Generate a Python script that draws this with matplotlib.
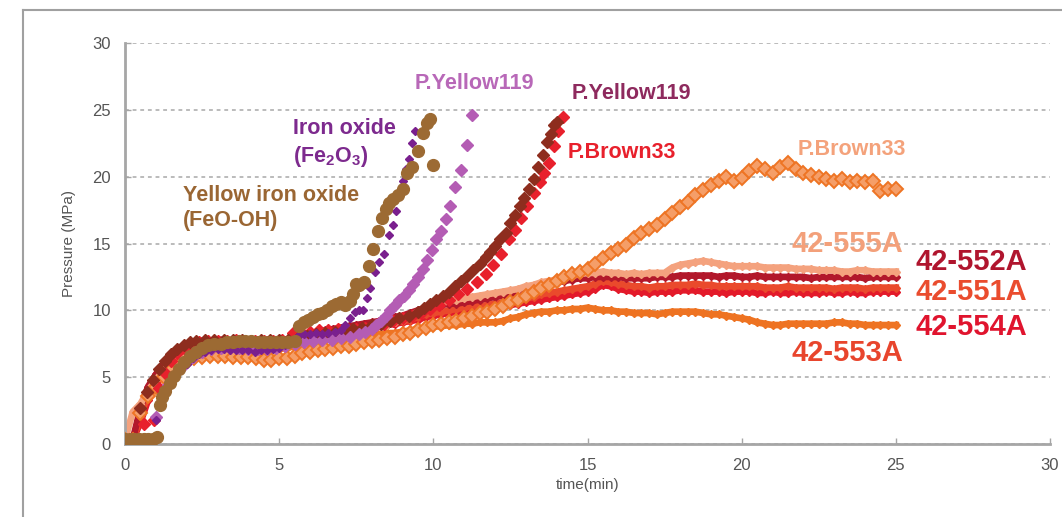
import numpy as np
import matplotlib
matplotlib.use("Agg")
import matplotlib.pyplot as plt
from matplotlib.lines import Line2D

plt.rcParams['font.family'] = ['Liberation Sans', 'DejaVu Sans']
plt.rcParams['mathtext.fontset'] = 'custom'
plt.rcParams['mathtext.rm'] = 'Liberation Sans:bold'
plt.rcParams['mathtext.it'] = 'Liberation Sans:bold'
plt.rcParams['mathtext.bf'] = 'Liberation Sans:bold'

# common sampling grid (min) for the long runs
t_grid = np.arange(0, 25.01, 0.25)

s555 = [0.3, 2.4, 3.0, 4.0, 4.8, 5.5, 6.1, 6.6, 6.9, 7.1,
        7.2, 7.3, 7.3, 7.3, 7.4, 7.3, 7.4, 7.4, 7.3, 7.4,
        7.4, 7.4, 7.5, 7.6, 7.7, 7.8, 7.9, 8.0, 8.1, 8.2,
        8.4, 8.5, 8.6, 8.8, 8.9, 9.1, 9.3, 9.6, 9.9, 10.1,
        10.4, 10.5, 10.7, 10.8, 10.9, 11.0, 11.1, 11.2, 11.3, 11.4,
        11.5, 11.6, 11.8, 11.9, 12.1, 12.2, 12.3, 12.4, 12.6, 12.7,
        12.8, 12.8, 12.9, 12.8, 12.8, 12.7, 12.8, 12.7, 12.8, 12.8,
        12.8, 13.2, 13.4, 13.5, 13.6, 13.7, 13.6, 13.5, 13.4, 13.3,
        13.3, 13.3, 13.3, 13.2, 13.2, 13.2, 13.2, 13.1, 13.1, 13.1,
        13.0, 13.0, 13.0, 12.9, 12.9, 13.0, 13.0, 12.9, 12.9, 12.9,
        12.9]
s552 = [0.3, 0.3, 2.7, 4.3, 5.2, 6.0, 6.6, 7.1, 7.4, 7.6,
        7.7, 7.7, 7.8, 7.8, 7.7, 7.8, 7.8, 7.7, 7.8, 7.8,
        7.8, 7.8, 7.9, 8.1, 8.3, 8.4, 8.5, 8.6, 8.7, 8.8,
        8.9, 9.0, 9.1, 9.2, 9.4, 9.5, 9.6, 9.8, 10.0, 10.2,
        10.3, 10.4, 10.5, 10.5, 10.6, 10.7, 10.8, 10.9, 11.0, 11.1,
        11.2, 11.4, 11.5, 11.6, 11.8, 11.9, 12.1, 12.2, 12.3, 12.4,
        12.4, 12.5, 12.5, 12.5, 12.5, 12.4, 12.4, 12.4, 12.4, 12.5,
        12.5, 12.5, 12.6, 12.6, 12.6, 12.6, 12.6, 12.5, 12.6, 12.6,
        12.5, 12.5, 12.6, 12.5, 12.5, 12.5, 12.5, 12.5, 12.5, 12.4,
        12.5, 12.5, 12.5, 12.5, 12.5, 12.5, 12.4, 12.5, 12.5, 12.5,
        12.5]
s551 = [0.3, 0.3, 2.0, 3.8, 4.9, 5.7, 6.3, 6.8, 7.2, 7.4,
        7.5, 7.6, 7.6, 7.7, 7.7, 7.6, 7.7, 7.7, 7.6, 7.7,
        7.7, 7.7, 7.8, 7.9, 8.1, 8.2, 8.3, 8.4, 8.5, 8.5,
        8.6, 8.7, 8.8, 8.9, 9.0, 9.1, 9.2, 9.3, 9.5, 9.7,
        9.8, 9.9, 10.0, 10.1, 10.2, 10.3, 10.3, 10.4, 10.5, 10.6,
        10.7, 10.8, 10.9, 11.0, 11.2, 11.3, 11.4, 11.5, 11.6, 11.7,
        11.8, 12.0, 12.2, 12.1, 12.0, 11.9, 11.8, 11.8, 11.7, 11.8,
        11.8, 11.9, 11.9, 11.9, 12.0, 11.9, 11.9, 11.8, 11.8, 11.8,
        11.8, 11.8, 11.8, 11.7, 11.7, 11.7, 11.8, 11.7, 11.7, 11.7,
        11.7, 11.7, 11.6, 11.7, 11.7, 11.7, 11.6, 11.7, 11.7, 11.7,
        11.7]
s554 = [0.3, 0.3, 1.6, 3.3, 4.6, 5.5, 6.2, 6.7, 7.1, 7.3,
        7.4, 7.5, 7.6, 7.6, 7.6, 7.5, 7.6, 7.6, 7.6, 7.6,
        7.6, 7.7, 7.8, 8.0, 8.2, 8.3, 8.3, 8.4, 8.4, 8.5,
        8.5, 8.6, 8.7, 8.8, 8.9, 9.0, 9.1, 9.2, 9.3, 9.5,
        9.6, 9.7, 9.8, 9.9, 9.9, 10.0, 10.1, 10.1, 10.2, 10.3,
        10.4, 10.5, 10.6, 10.7, 10.8, 10.9, 11.0, 11.1, 11.2, 11.3,
        11.4, 11.6, 11.9, 11.8, 11.6, 11.5, 11.4, 11.4, 11.3, 11.4,
        11.4, 11.4, 11.5, 11.5, 11.5, 11.4, 11.4, 11.4, 11.3, 11.4,
        11.4, 11.4, 11.3, 11.3, 11.4, 11.3, 11.3, 11.4, 11.3, 11.3,
        11.3, 11.4, 11.3, 11.3, 11.4, 11.3, 11.3, 11.4, 11.4, 11.4,
        11.4]
s553 = [0.3, 0.3, 2.2, 3.6, 4.5, 5.2, 5.8, 6.2, 6.5, 6.7,
        6.9, 7.0, 7.0, 7.0, 7.1, 7.0, 7.0, 7.1, 7.0, 7.1,
        7.1, 7.2, 7.3, 7.4, 7.6, 7.7, 7.8, 7.8, 7.9, 7.9,
        8.0, 8.0, 8.1, 8.2, 8.3, 8.3, 8.4, 8.5, 8.6, 8.7,
        8.8, 8.8, 8.9, 8.9, 9.0, 9.0, 9.1, 9.1, 9.1, 9.2,
        9.4, 9.5, 9.7, 9.8, 9.9, 9.9, 10.0, 10.0, 10.1, 10.1,
        10.2, 10.1, 10.0, 10.0, 9.9, 9.9, 9.8, 9.8, 9.8, 9.7,
        9.8, 9.9, 9.9, 9.9, 9.9, 9.8, 9.7, 9.7, 9.6, 9.5,
        9.4, 9.3, 9.1, 9.0, 8.9, 8.9, 9.0, 9.0, 9.0, 9.0,
        9.0, 9.0, 9.1, 9.1, 9.0, 9.0, 8.9, 8.9, 8.9, 8.9,
        8.9]
pb33_orange = [0.3, 0.3, 2.3, 3.6, 4.3, 5.0, 5.5, 5.9, 6.2, 6.4,
               6.5, 6.6, 6.6, 6.6, 6.5, 6.5, 6.5, 6.4, 6.3, 6.3,
               6.4, 6.4, 6.6, 6.8, 6.9, 7.0, 7.1, 7.2, 7.3, 7.3,
               7.5, 7.6, 7.7, 7.8, 7.9, 8.0, 8.2, 8.3, 8.5, 8.7,
               8.9, 9.0, 9.1, 9.2, 9.4, 9.6, 9.8, 9.9, 10.1, 10.3,
               10.6, 10.8, 11.1, 11.4, 11.7, 11.9, 12.2, 12.5, 12.7, 12.9,
               13.1, 13.5, 13.9, 14.3, 14.6, 14.9, 15.4, 15.8, 16.1, 16.4,
               16.8, 17.3, 17.7, 18.1, 18.6, 19.0, 19.4, 19.7, 20.0, 19.7,
               19.9, 20.4, 20.8, 20.6, 20.3, 20.7, 21.0, 20.6, 20.3, 20.1,
               20.0, 19.8, 19.7, 19.8, 19.6, 19.7, 19.6, 19.7, 18.9, 19.1,
               19.1]

# yellow iron oxide (FeO-OH)
feooh_t = [0.0, 0.15, 0.3, 0.45, 0.6, 0.75, 0.9, 1.05,
           1.12, 1.2, 1.3, 1.45, 1.6, 1.75, 1.9, 2.1, 2.3, 2.5,
           2.7, 2.9, 3.1, 3.3, 3.5, 3.7, 3.9, 4.1, 4.3, 4.5,
           4.7, 4.9, 5.1, 5.3, 5.5,
           5.65, 5.8, 5.95, 6.1, 6.25, 6.4, 6.55, 6.7, 6.85, 7.0,
           7.15, 7.3, 7.4, 7.5, 7.6, 7.75, 7.9, 8.05, 8.2, 8.35,
           8.45, 8.55, 8.7, 8.85, 9.0, 9.15, 9.3, 9.5, 9.65, 9.8,
           9.9, 10.0]
feooh_p = [0.4, 0.4, 0.4, 0.4, 0.4, 0.4, 0.4, 0.5,
           2.9, 3.5, 4.0, 4.6, 5.1, 5.6, 6.1, 6.6, 6.9, 7.2,
           7.4, 7.5, 7.5, 7.6, 7.6, 7.7, 7.7, 7.7, 7.6, 7.6,
           7.6, 7.6, 7.6, 7.6, 7.7,
           8.8, 9.1, 9.3, 9.5, 9.7, 9.8, 10.0, 10.3, 10.5, 10.6,
           10.4, 10.7, 11.2, 12.0, 11.9, 12.1, 13.3, 14.6, 15.9, 16.9,
           17.6, 18.0, 18.3, 18.6, 19.1, 20.3, 20.7, 21.9, 23.3, 24.0,
           24.3, 20.9]

# iron oxide (Fe2O3)
fe2o3_t = [0.0, 0.2, 0.4, 0.6, 0.8,
           1.0, 1.2, 1.4, 1.6, 1.8, 2.0, 2.2, 2.4, 2.6, 2.8,
           3.0, 3.2, 3.4, 3.6, 3.8, 4.0, 4.2, 4.4, 4.6, 4.8,
           5.0, 5.2, 5.4, 5.6, 5.8, 6.0, 6.2, 6.4, 6.6, 6.8, 7.0,
           7.15, 7.3, 7.45, 7.6, 7.72, 7.85, 7.95, 8.1, 8.25, 8.4,
           8.55, 8.7, 8.8, 8.9, 9.0, 9.1, 9.2, 9.3, 9.4]
fe2o3_p = [0.3, 0.3, 0.3, 0.3, 0.3,
           1.8, 3.5, 4.3, 5.0, 5.6, 6.0, 6.4, 6.7, 6.9, 7.0,
           7.1, 7.1, 7.0, 7.0, 7.0, 7.0, 6.9, 7.0, 7.0, 7.1,
           7.2, 7.4, 7.7, 8.1, 8.2, 8.2, 8.3, 8.2, 8.3, 8.4, 8.5,
           8.9, 9.4, 9.9, 10.0, 10.0, 10.9, 11.7, 12.9, 13.6, 14.2,
           15.6, 16.4, 17.4, 18.6, 19.7, 20.6, 21.3, 22.5, 23.4]

# P.Yellow119 (light)
py119l_t = [0.0, 0.2, 0.4, 0.6, 0.8,
            1.0, 1.2, 1.4, 1.6, 1.8, 2.0, 2.2, 2.5, 2.8, 3.1,
            3.4, 3.7, 4.0, 4.3, 4.6, 4.9, 5.2, 5.5, 5.8, 6.1,
            6.4, 6.7, 7.0, 7.3, 7.6, 7.8, 8.0, 8.15, 8.3, 8.45,
            8.6, 8.75, 8.9, 9.05, 9.2, 9.35, 9.5, 9.65, 9.8, 9.95,
            10.1, 10.25, 10.4, 10.55, 10.7, 10.9, 11.1, 11.25]
py119l_p = [0.3, 0.3, 0.3, 0.3, 0.3,
            2.0, 3.5, 4.4, 5.1, 5.7, 6.1, 6.5, 6.9, 7.1, 7.2,
            7.2, 7.2, 7.1, 7.1, 7.1, 7.2, 7.3, 7.5, 7.6, 7.7,
            7.8, 7.8, 7.9, 8.0, 8.2, 8.4, 8.6, 8.9, 9.2, 9.6,
            10.0, 10.4, 10.8, 11.1, 11.5, 12.0, 12.5, 13.1, 13.8, 14.5,
            15.3, 15.9, 16.8, 17.8, 19.2, 20.5, 22.4, 24.6]

# P.Yellow119 (dark)
py119d_t = [0.0, 0.2, 0.35, 0.5, 0.7, 0.9, 1.1, 1.3, 1.5, 1.7,
            1.9, 2.1, 2.3, 2.6, 2.9, 3.2, 3.5, 3.8, 4.1, 4.4,
            4.7, 5.0, 5.3, 5.6, 5.9, 6.2, 6.5, 6.8, 7.1, 7.4,
            7.7, 8.0, 8.3, 8.6, 8.9, 9.2, 9.5, 9.7, 9.9, 10.1,
            10.3, 10.5, 10.7, 10.9, 11.1, 11.3, 11.5, 11.7, 11.85, 12.0,
            12.15, 12.35, 12.5, 12.65, 12.8, 12.95, 13.1, 13.25, 13.4, 13.55,
            13.7, 13.8, 13.9, 14.0]
py119d_p = [0.3, 0.3, 0.3, 2.7, 3.9, 4.8, 5.6, 6.2, 6.7, 7.1,
            7.4, 7.6, 7.7, 7.8, 7.8, 7.8, 7.8, 7.8, 7.7, 7.8,
            7.8, 7.8, 7.8, 7.9, 8.1, 8.2, 8.3, 8.4, 8.5, 8.6,
            8.7, 8.9, 9.0, 9.2, 9.4, 9.6, 9.9, 10.2, 10.5, 10.8,
            11.1, 11.4, 11.8, 12.2, 12.6, 13.0, 13.5, 14.0, 14.4, 14.8,
            15.3, 15.8, 16.5, 17.1, 17.8, 18.4, 19.1, 19.8, 20.7, 21.6,
            22.6, 23.2, 23.9, 24.1]

# P.Brown33 (red)
pb33r_t = [0.0, 0.2, 0.4, 0.6, 0.95, 1.1, 1.3, 1.5, 1.7, 1.9,
           2.1, 2.4, 2.7, 3.0, 3.3, 3.6, 3.9, 4.2, 4.5, 4.8,
           5.1, 5.45, 5.7, 6.0, 6.3, 6.6, 6.9, 7.2, 7.5, 7.8,
           8.1, 8.4, 8.7, 9.0, 9.3, 9.6, 9.9, 10.2, 10.5, 10.8,
           11.1, 11.4, 11.7, 11.95, 12.2, 12.45, 12.65, 12.85, 13.05, 13.25,
           13.45, 13.6, 13.75, 13.9, 14.05, 14.2]
pb33r_p = [0.3, 0.3, 0.3, 1.5, 1.8, 4.2, 5.3, 6.2, 6.8, 7.2,
           7.5, 7.6, 7.7, 7.7, 7.7, 7.8, 7.7, 7.7, 7.7, 7.7,
           7.8, 8.3, 8.4, 8.4, 8.5, 8.5, 8.6, 8.6, 8.6, 8.7,
           8.8, 9.0, 9.2, 9.4, 9.6, 9.8, 10.1, 10.4, 10.8, 11.2,
           11.6, 12.1, 12.7, 13.4, 14.2, 15.3, 16.0, 16.9, 17.8, 18.8,
           19.6, 20.3, 21.0, 22.3, 23.4, 24.5]

fig = plt.figure(figsize=(10.62, 5.17), dpi=100)
ax = fig.add_axes([125 / 1062, 1 - 444 / 517, 925 / 1062, 401 / 517])

# dense runs drawn as thick jagged bands
dense = [(s553, '#EE7322'), (s554, '#E31A2A'), (s551, '#EA4A2C'),
         (s552, '#B2182B'), (s555, '#F4A27E')]
for vals, col in dense:
    ax.plot(t_grid, vals, '-', color=col, lw=4.8, marker='D', ms=4.2,
            mec=col, mfc=col, solid_joinstyle='round', zorder=2)

ax.plot(t_grid, pb33_orange, 'D', ms=6.8, mfc='#F59E68', mec='#EE7424',
        mew=1.4, zorder=3)
ax.plot(pb33r_t, pb33r_p, 'D', ms=6.5, color='#E8202C', zorder=4)
ax.plot(py119d_t, py119d_p, 'D', ms=6.5, color='#8E2D1E', zorder=5)
ax.plot(py119l_t, py119l_p, 'D', ms=6.5, color='#B45CB4', zorder=6)
ax.plot(fe2o3_t, fe2o3_p, 'D', ms=4.2, color='#7A1F8E', zorder=7)
ax.plot(feooh_t, feooh_p, 'o', ms=8.5, color='#9C6A33', zorder=8)

ax.set_xlim(0, 30)
ax.set_ylim(0, 30)
ax.set_xticks(range(0, 31, 5))
ax.set_yticks(range(0, 31, 5))
ax.yaxis.grid(True, color='#A8A8A8', lw=1.1, dashes=(2.5, 2.5))
ax.set_axisbelow(True)
for side in ('top', 'right'):
    ax.spines[side].set_visible(False)
for side in ('left', 'bottom'):
    ax.spines[side].set_color('#A6A6A6')
    ax.spines[side].set_linewidth(2)
ax.tick_params(direction='in', length=4, width=1, color='#A6A6A6',
               labelsize=12, labelcolor='#555555', pad=10)
ax.set_xlabel('time(min)', fontsize=11, color='#555555', labelpad=4)
ax.set_ylabel('Pressure (MPa)', fontsize=11, color='#555555', labelpad=12)

# series labels
lab = dict(fontsize=15.5, fontweight='bold', va='center', ha='left')
ax.text(5.45, 23.6, 'Iron oxide', color='#7D2A8E', **lab)
ax.text(5.45, 21.5, '(Fe$_2$O$_3$)', color='#7D2A8E', **lab)
ax.text(1.88, 18.6, 'Yellow iron oxide', color='#9A6633', **lab)
ax.text(1.88, 16.7, '(FeO-OH)', color='#9A6633', **lab)
ax.text(9.4, 27.0, 'P.Yellow119', color='#B868B8', **lab)
ax.text(14.5, 26.25, 'P.Yellow119', color='#8E2A5E', **lab)
ax.text(14.37, 21.8, 'P.Brown33', color='#E8202C', **lab)
ax.text(21.83, 22.0, 'P.Brown33', color='#F4A27B', **lab)

big = dict(fontsize=21, fontweight='bold', va='center', ha='left')
ax.text(21.63, 15.0, '42-555A', color='#F3A07A', **big)
ax.text(25.65, 13.6, '42-552A', color='#B0152E', **big)
ax.text(25.65, 11.4, '42-551A', color='#EA4C2E', **big)
ax.text(25.65, 8.75, '42-554A', color='#E0142E', **big)
ax.text(21.63, 6.8, '42-553A', color='#E8452D', **big)
for t in ax.texts:
    t.set_clip_on(False)

# outer chart frame
fig.add_artist(Line2D([23 / 1062, 23 / 1062], [0, 1 - 10 / 517],
                      color='#A0A0A0', lw=1.5))
fig.add_artist(Line2D([23 / 1062, 1], [1 - 10 / 517, 1 - 10 / 517],
                      color='#A0A0A0', lw=1.5))

fig.savefig('out.png', dpi=100)
